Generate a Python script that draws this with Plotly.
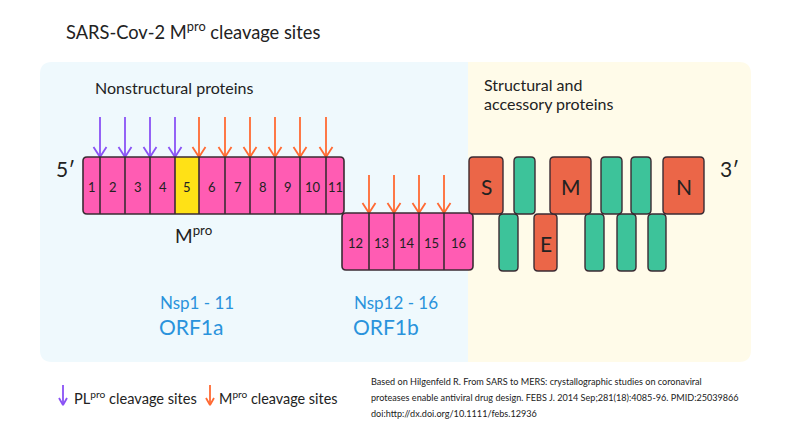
import plotly.graph_objects as go

# ---------------- data ----------------
title_text = "SARS-Cov-2 M<sup>pro</sup> cleavage sites"
orf1a_labels = ["1", "2", "3", "4", "5", "6", "7", "8", "9", "10", "11"]
orf1a_widths = [17, 25, 25, 25, 24, 26, 25, 25, 25, 26, 18]
orf1a_sites = ["PL", "PL", "PL", "PL", "M", "M", "M", "M", "M", "M"]
orf1b_labels = ["12", "13", "14", "15", "16"]
orf1b_widths = [27, 25, 25, 25, 29]
orf1b_sites = ["M", "M", "M", "M"]
mpro_index = 4
struct_top = ["S", "", "M", "", "", "N"]
struct_top_kind = ["s", "a", "s", "a", "a", "s"]
struct_bot = ["", "E", "", "", ""]
struct_bot_kind = ["a", "s", "a", "a", "a"]
citation = ["Based on Hilgenfeld R. From SARS to MERS: crystallographic studies on coronaviral",
            "proteases enable antiviral drug design. FEBS J. 2014 Sep;281(18):4085-96. PMID:25039866",
            "doi:http://dx.doi.org/10.1111/febs.12936"]

# ---------------- styles ----------------
FONT = "Lato"
PINK = "#ff5cb3"
YEL = "#ffe116"
RED = "#eb6648"
GRN = "#3dc39a"
PURP = "#8a52f5"
ORNG = "#ff6a33"
EDGE = "#3b2b33"
BLUE_T = "#2a93dc"
OFF = 8  # page body margin

shapes = []
ann = []


def rpath(x0, y0, x1, y1, r=4, corners=(1, 1, 1, 1)):
    tl, tr, br, bl = [r * c for c in corners]
    return (f"M{x0+tl},{y0} L{x1-tr},{y0} Q{x1},{y0} {x1},{y0+tr} "
            f"L{x1},{y1-br} Q{x1},{y1} {x1-br},{y1} L{x0+bl},{y1} "
            f"Q{x0},{y1} {x0},{y1-bl} L{x0},{y0+tl} Q{x0},{y0} {x0+tl},{y0} Z")


# panels
shapes.append(dict(type="path", path=rpath(40, 62, 468, 362, 12, (1, 0, 0, 1)),
                   fillcolor="#eff9fd", line=dict(width=0), layer="below"))
shapes.append(dict(type="path", path=rpath(468, 62, 751, 362, 12, (0, 1, 1, 0)),
                   fillcolor="#fffbe9", line=dict(width=0), layer="below"))


def segment_row(x0, y0, y1, widths, labels, highlight=None):
    edges = [x0]
    for w in widths:
        edges.append(edges[-1] + w)
    shapes.append(dict(type="path", path=rpath(edges[0], y0, edges[-1], y1, 4),
                       fillcolor=PINK, line=dict(width=0)))
    if highlight is not None:
        shapes.append(dict(type="rect", x0=edges[highlight], x1=edges[highlight + 1],
                           y0=y0, y1=y1, fillcolor=YEL, line=dict(width=0)))
    for e in edges[1:-1]:
        shapes.append(dict(type="line", x0=e, x1=e, y0=y0, y1=y1,
                           line=dict(color=EDGE, width=1.6)))
    shapes.append(dict(type="path", path=rpath(edges[0], y0, edges[-1], y1, 4),
                       fillcolor="rgba(0,0,0,0)", line=dict(color=EDGE, width=1.6)))
    for i, lab in enumerate(labels):
        ann.append(dict(x=(edges[i] + edges[i + 1]) / 2, y=(y0 + y1) / 2 + 1, text=lab,
                        showarrow=False, font=dict(family=FONT, size=13, color="#222")))
    return edges


e1 = segment_row(83, 157, 214, orf1a_widths, orf1a_labels, mpro_index)
e2 = segment_row(342, 213, 270, orf1b_widths, orf1b_labels)

# arrows
arrow_traces = {"PL": ([], []), "M": ([], [])}


def add_arrow(kind, x, ytop, ybot, hw=6.5, hh=10):
    xs, ys = arrow_traces[kind]
    xs += [x, x, None, x - hw, x, x + hw, None]
    ys += [ytop, ybot, None, ybot - hh, ybot, ybot - hh, None]


for kind, x in zip(orf1a_sites, e1[1:-1]):
    add_arrow(kind, x, 117, 157)
for kind, x in zip(orf1b_sites, e2[1:-1]):
    add_arrow(kind, x, 175, 213)
# legend arrows
add_arrow("PL", 63, 385, 405, 4, 7)
add_arrow("M", 210, 385, 405, 4, 7)

traces = []
for kind, col in (("PL", PURP), ("M", ORNG)):
    xs, ys = arrow_traces[kind]
    traces.append(go.Scatter(x=xs, y=ys, mode="lines", line=dict(color=col, width=1.8),
                             hoverinfo="skip", showlegend=False))

# structural / accessory
top_x = [(469, 503), (514, 535), (550, 591), (601, 622), (631, 651), (663, 704)]
bot_x = [(499, 518), (534, 557), (585, 604), (617, 636), (648, 666)]


def prot_boxes(xs, labels, kinds, y0, y1):
    for (a, b), lab, k in zip(xs, labels, kinds):
        shapes.append(dict(type="path", path=rpath(a, y0, b, y1, 4),
                           fillcolor=RED if k == "s" else GRN,
                           line=dict(color=EDGE, width=1.4)))
        if lab:
            ann.append(dict(x=(a + b) / 2, y=(y0 + y1) / 2 + 1, text=lab, showarrow=False,
                            font=dict(family=FONT, size=21, color="#222")))


prot_boxes(bot_x, struct_bot, struct_bot_kind, 214, 271)
prot_boxes(top_x, struct_top, struct_top_kind, 157, 214)

# texts
def txt(x, y, t, size, color="#222", xanchor="left", family=FONT):
    ann.append(dict(x=x, y=y, text=t, showarrow=False, xanchor=xanchor, yanchor="middle",
                    font=dict(family=family, size=size, color=color)))


txt(64, 30, title_text, 18.3)
txt(93, 87, "Nonstructural proteins", 16)
txt(482, 84, "Structural and", 16)
txt(482, 103, "accessory proteins", 16)
txt(54, 168, "5′", 21)
txt(718, 168, "3′", 21)
txt(173, 234, "M<sup>pro</sup>", 19)
txt(158, 302, "Nsp1 - 11", 17, BLUE_T)
txt(157, 326, "ORF1a", 21, BLUE_T)
txt(352, 302, "Nsp12 - 16", 17, BLUE_T)
txt(351, 326, "ORF1b", 21, BLUE_T)
txt(72, 397, "PL<sup>pro</sup> cleavage sites", 14.6)
txt(217, 397, "M<sup>pro</sup> cleavage sites", 14.4)
for i, line in enumerate(citation):
    txt(369, 381 + 16 * i, line, 9.1)

fig = go.Figure(traces)
fig.update_layout(
    width=800 - OFF, height=448 - OFF, margin=dict(l=0, r=0, t=0, b=0),
    paper_bgcolor="white", plot_bgcolor="white",
    xaxis=dict(range=[OFF, 800], visible=False, fixedrange=True),
    yaxis=dict(range=[448, OFF], visible=False, fixedrange=True),
    shapes=shapes, annotations=ann, showlegend=False,
)
fig.write_html("out.html")
